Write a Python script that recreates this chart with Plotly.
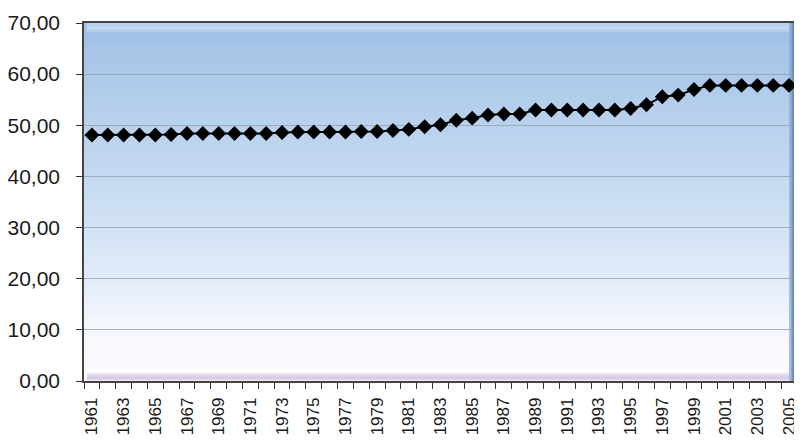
import plotly.graph_objects as go

years = list(range(1961, 2006))
values = [48.1, 48.1, 48.1, 48.1, 48.1, 48.2, 48.4, 48.4, 48.4, 48.4,
          48.4, 48.4, 48.6, 48.7, 48.7, 48.7, 48.7, 48.8, 48.8, 49.0,
          49.2, 49.7, 50.1, 51.0, 51.4, 52.0, 52.2, 52.2, 53.0, 53.0,
          53.0, 53.0, 53.0, 53.0, 53.3, 54.0, 55.6, 55.9, 57.0, 57.8,
          57.8, 57.8, 57.8, 57.8, 57.8]
label_years = list(range(1961, 2006, 2))
y_ticks = [0, 10, 20, 30, 40, 50, 60, 70]

# background gradient stops (fraction from bottom, rgb)
stops = [(0.0, (252, 251, 255)), (0.12, (248, 249, 253)), (0.3, (224, 235, 248)),
         (0.55, (198, 218, 241)), (0.8, (178, 205, 235)), (1.0, (160, 191, 230))]


def interp(f):
    for (f0, c0), (f1, c1) in zip(stops[:-1], stops[1:]):
        if f0 <= f <= f1:
            t = (f - f0) / (f1 - f0)
            return tuple(round(a + (b - a) * t) for a, b in zip(c0, c1))
    return stops[-1][1]


shapes = []
n = 90
for i in range(n):
    f0 = i / n
    f1 = (i + 1) / n
    c = interp((f0 + f1) / 2)
    shapes.append(dict(type="rect", xref="x domain", yref="y domain",
                       x0=0, x1=1, y0=f0, y1=f1 + 0.002, layer="below",
                       line=dict(width=0), fillcolor="rgb(%d,%d,%d)" % c))
# bevel: top lighter strip (soft)
for k, col in enumerate(["rgba(190,214,242,0.6)", "rgba(200,222,246,0.7)", "rgba(185,208,238,0.8)"]):
    shapes.append(dict(type="rect", xref="x domain", yref="y domain", x0=0.004, x1=0.99,
                       y0=0.975 + 0.007 * k, y1=1, layer="below", line=dict(width=0),
                       fillcolor=col))
# bevel: bottom lavender strip
for k, col in enumerate(["rgba(232,225,238,0.9)", "rgba(218,206,228,0.9)", "rgba(205,190,218,0.9)"]):
    shapes.append(dict(type="rect", xref="x domain", yref="y domain", x0=0.004, x1=0.99,
                       y0=0.004 * k, y1=0.022 - 0.006 * k, layer="below",
                       line=dict(width=0), fillcolor=col))
# bevel: right darker strip
for k, col in enumerate(["rgba(140,170,212,0.8)", "rgba(105,135,185,0.85)", "rgba(60,85,135,0.9)"]):
    shapes.append(dict(type="rect", xref="x domain", yref="y domain", x0=0.989 + 0.0035 * k,
                       x1=1, y0=0.0, y1=1, layer="below",
                       line=dict(width=0), fillcolor=col))

fig = go.Figure()
fig.add_trace(go.Scatter(
    x=years, y=values, mode="lines+markers",
    line=dict(color="black", width=2),
    marker=dict(symbol="diamond", size=11.5, color="black"),
    showlegend=False, hoverinfo="x+y"))

fig.update_layout(
    width=794, height=439,
    margin=dict(l=76, r=5, t=15, b=66, autoexpand=False),
    paper_bgcolor="white",
    plot_bgcolor="white",
    separators=",.",
    shapes=shapes,
    font=dict(family="Liberation Sans, Arial, sans-serif", color="#1a1a1a"),
)
fig.update_xaxes(
    range=[1960.5, 2005.5], automargin=False,
    tickmode="array", tickvals=label_years, ticktext=[str(y) for y in label_years],
    tickangle=-90, tickfont=dict(size=17),
    ticks="outside", ticklen=8, tickcolor="rgba(0,0,0,0)",
    minor=dict(tick0=1960.5, dtick=1, ticks="outside", ticklen=6,
               tickcolor="#333", tickwidth=1.2, showgrid=False),
    showgrid=False, zeroline=False,
    showline=True, linecolor="#444", linewidth=1.5, mirror=True,
)
fig.update_yaxes(
    range=[0, 70], tickmode="array", tickvals=y_ticks, tickformat=".2f",
    tickfont=dict(size=21), automargin=False,
    ticks="outside", ticklen=6, tickcolor="#333", tickwidth=1.2,
    ticklabelstandoff=12,
    showgrid=True, gridcolor="rgba(150,155,175,0.75)", gridwidth=1,
    zeroline=False,
    showline=True, linecolor="#444", linewidth=1.5, mirror=True,
)

fig.write_html("out.html")
